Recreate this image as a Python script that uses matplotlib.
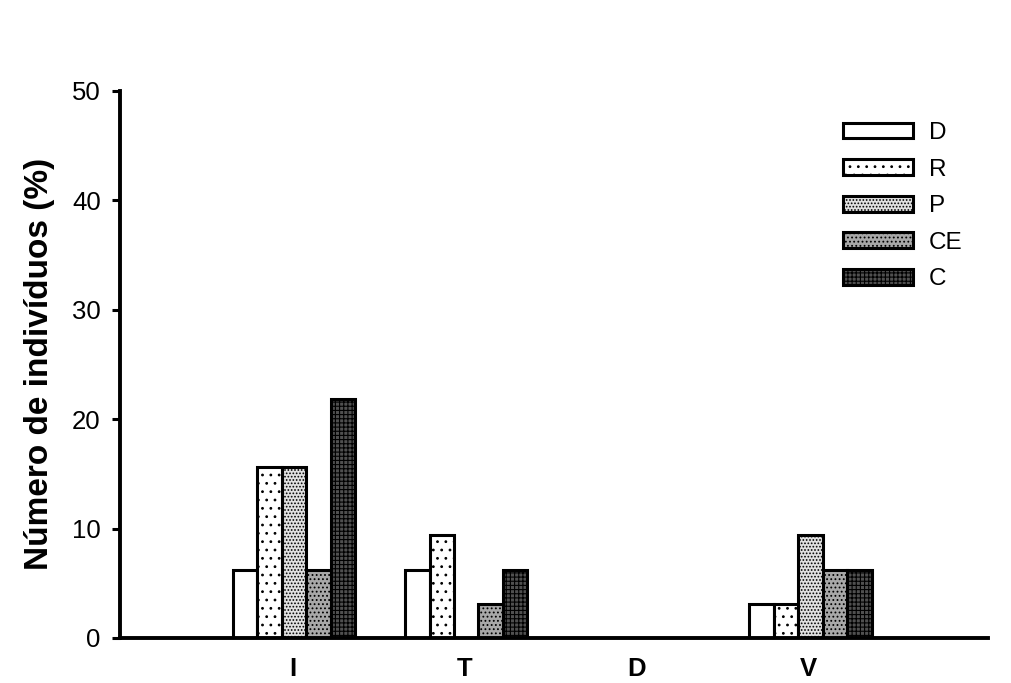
import matplotlib
matplotlib.use("Agg")
import matplotlib.pyplot as plt
import numpy as np

plt.rcParams['font.family'] = ['Liberation Sans', 'DejaVu Sans']
plt.rcParams['hatch.linewidth'] = 0.8

categories = ['I', 'T', 'D', 'V']
series = ['D', 'R', 'P', 'CE', 'C']
val_D = [6.25, 6.25, 0, 3.125]
val_R = [15.625, 9.375, 0, 3.125]
val_P = [15.625, 0, 0, 9.375]
val_CE = [6.25, 3.125, 0, 6.25]
val_C = [21.875, 6.25, 0, 6.25]
values = [val_D, val_R, val_P, val_CE, val_C]

faces = ['white', 'white', '#e0e0e0', '#a8a8a8', '#505050']
hatches = [None, '..', '.....', '....', '++++']

fig = plt.figure(figsize=(10.11, 6.83), dpi=100)
ax = fig.add_axes([0.119, 0.066, 0.858, 0.801])

x = np.arange(len(categories))
w = 0.142
for i, (s, v) in enumerate(zip(series, values)):
    ax.bar(x + (i - 2) * w + 0.01, v, width=w, facecolor=faces[i], edgecolor='black',
           hatch=hatches[i], linewidth=2.2, label=s, zorder=2)

ax.set_xlim(-1.0, 4.04)
ax.set_ylim(0, 50)
ax.set_yticks([0, 10, 20, 30, 40, 50])
ax.set_xticks(x)
ax.set_xticklabels(categories, fontsize=18.5, fontweight='bold')
ax.tick_params(axis='x', length=0, pad=14)
ax.tick_params(axis='y', length=6, width=2.2, labelsize=18.5, pad=8)
for sp in ['top', 'right']:
    ax.spines[sp].set_visible(False)
for sp in ['left', 'bottom']:
    ax.spines[sp].set_linewidth(2.8)
ax.set_ylabel('Número de indivíduos (%)', fontsize=24, fontweight='bold', labelpad=12)

leg = ax.legend(loc='upper left', bbox_to_anchor=(0.819, 0.965), frameon=False,
                fontsize=17.5, handlelength=2.9, handleheight=0.62, labelspacing=0.6,
                handletextpad=0.65, borderpad=0)

fig.savefig('out.png', dpi=100)
